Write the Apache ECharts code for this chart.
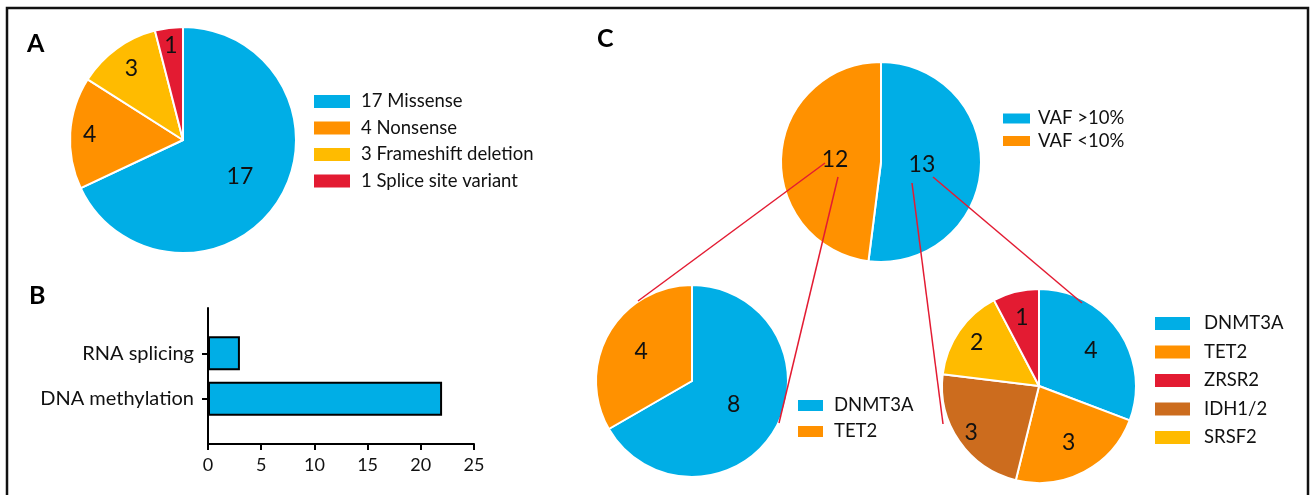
<!DOCTYPE html>
<html>
<head>
<meta charset="utf-8">
<script src="https://cdn.jsdelivr.net/npm/echarts@6/dist/echarts.min.js"></script>
<style>
html, body {margin: 0; padding: 0; background: #fff;}
#main {width: 1311px; height: 495px;}
</style>
</head>
<body>
<div id="main"></div>
<script>
// A: mutation types
const mutationTypes = ['17 Missense', '4 Nonsense', '3 Frameshift deletion', '1 Splice site variant']
const mutationCounts = [17, 4, 3, 1]
// B: pathways (bottom to top, padded with blank slots)
const pathways = [' ', 'DNA methylation', 'RNA splicing', '  ']
const pathwayCounts = ['-', 22, 3, '-']
const xMin = 0
const xMax = 25
const xStep = 5
// C: VAF split and genes
const vafGroups = ['VAF >10%', 'VAF <10%']
const vafCounts = [13, 12]
const lowGenes = ['DNMT3A', 'TET2']
const lowCounts = [8, 4]
const highGenes = ['DNMT3A', 'TET2', 'IDH1/2', 'SRSF2', 'ZRSR2']
const highCounts = [4, 3, 3, 2, 1]
const highLegend = ['DNMT3A', 'TET2', 'ZRSR2', 'IDH1/2', 'SRSF2']

const BLUE = '#00aee6'
const ORANGE = '#ff9100'
const YELLOW = '#ffbb00'
const RED = '#e31b32'
const BROWN = '#cc6c1e'
const geneColor = {'DNMT3A': BLUE, 'TET2': ORANGE, 'ZRSR2': RED, 'IDH1/2': BROWN, 'SRSF2': YELLOW}
const FONT = 'Lato'

// labelR: label distance from centre, as share of radius (one per slice)
function pieSeries (names, values, colors, center, r, labelR) {
  const total = values.reduce((a, b) => a + b, 0)
  let acc = 0
  const data = names.map((n, i) => {
    const mid = (acc + values[i] / 2) / total * 2 * Math.PI
    acc += values[i]
    const k = (labelR[i] - 0.5) * r
    return {
      name: n,
      value: values[i],
      itemStyle: {color: colors[i]},
      label: {offset: [k * Math.sin(mid), -k * Math.cos(mid)]}
    }
  })
  return {
    type: 'pie',
    center: center,
    radius: r,
    startAngle: 90,
    clockwise: true,
    silent: true,
    itemStyle: {borderColor: '#fff', borderWidth: 2},
    label: {show: true, position: 'inside', formatter: '{c}', fontSize: 23, color: '#111', fontFamily: FONT},
    labelLine: {show: false},
    data: data
  }
}

function legendAt (names, left, top, w, h, gap, pad) {
  return {
    data: names,
    orient: 'vertical',
    left: left,
    top: top,
    padding: 0,
    icon: 'rect',
    itemWidth: w,
    itemHeight: h,
    itemGap: gap,
    selectedMode: false,
    itemStyle: {borderWidth: 0},
    textStyle: {fontSize: 18.5, fontFamily: FONT, color: '#111', padding: [0, 0, 0, pad]}
  }
}

let mychart = echarts.init(document.getElementById('main'))
let option = {
  animation: false,
  backgroundColor: '#fff',
  title: [
    {text: 'A', left: 22, top: 26, textStyle: {fontSize: 25, fontWeight: 'bold', fontFamily: FONT, color: '#000'}},
    {text: 'B', left: 24, top: 278, textStyle: {fontSize: 25, fontWeight: 'bold', fontFamily: FONT, color: '#000'}},
    {text: 'C', left: 592, top: 21, textStyle: {fontSize: 25, fontWeight: 'bold', fontFamily: FONT, color: '#000'}}
  ],
  legend: [
    legendAt(mutationTypes, 314, 92, 36, 13, 7.5, 6),
    legendAt(vafGroups, 1003, 109, 27, 10, 3.5, 3),
    legendAt(lowGenes, 798, 396, 25, 11, 7, 6),
    legendAt(highLegend, 1155, 314, 35, 13, 9.5, 9)
  ],
  grid: {left: 208, top: 308, width: 266, height: 136},
  xAxis: {
    type: 'value',
    min: xMin,
    max: xMax,
    interval: xStep,
    axisLine: {show: true, lineStyle: {color: '#000', width: 2}},
    axisTick: {show: true, length: 6, lineStyle: {color: '#000', width: 2}},
    axisLabel: {fontSize: 18, fontFamily: FONT, color: '#111', margin: 12},
    splitLine: {show: false}
  },
  yAxis: {
    type: 'category',
    data: pathways,
    boundaryGap: false,
    axisLine: {show: true, lineStyle: {color: '#000', width: 2}},
    axisTick: {show: true, length: 6, lineStyle: {color: '#000', width: 2},
      interval: (i, v) => v.trim() !== ''},
    axisLabel: {fontSize: 20, fontFamily: FONT, color: '#111', margin: 14,
      interval: (i, v) => v.trim() !== ''},
    splitLine: {show: false}
  },
  series: [
    pieSeries(mutationTypes, mutationCounts, [BLUE, ORANGE, YELLOW, RED], [183, 140], 113, [0.57, 0.8, 0.75, 0.82]),
    {
      type: 'bar',
      data: pathwayCounts,
      barWidth: 34,
      silent: true,
      itemStyle: {color: BLUE, borderColor: '#000', borderWidth: 2}
    },
    pieSeries(vafGroups, vafCounts, [BLUE, ORANGE], [881, 162], 100, [0.38, 0.43]),
    pieSeries(lowGenes, lowCounts, lowGenes.map(g => geneColor[g]), [692, 381], 96, [0.47, 0.58]),
    pieSeries(highGenes, highCounts, highGenes.map(g => geneColor[g]), [1039, 386], 97, [0.62, 0.63, 0.82, 0.75, 0.7])
  ],
  // frame and red connectors from the VAF pie to the gene pies
  graphic: [
    {type: 'rect', z: 100, shape: {x: 7, y: 8, width: 1301, height: 500}, style: {fill: 'none', stroke: '#111', lineWidth: 2.5}},
    {type: 'line', z: 100, shape: {x1: 825, y1: 163, x2: 638, y2: 301}, style: {stroke: RED, lineWidth: 1.5}},
    {type: 'line', z: 100, shape: {x1: 838, y1: 177, x2: 779, y2: 423}, style: {stroke: RED, lineWidth: 1.5}},
    {type: 'line', z: 100, shape: {x1: 912, y1: 183, x2: 943, y2: 424}, style: {stroke: RED, lineWidth: 1.5}},
    {type: 'line', z: 100, shape: {x1: 933, y1: 177, x2: 1082, y2: 303}, style: {stroke: RED, lineWidth: 1.5}}
  ]
}
mychart.setOption(option)
</script>
</body>
</html>
